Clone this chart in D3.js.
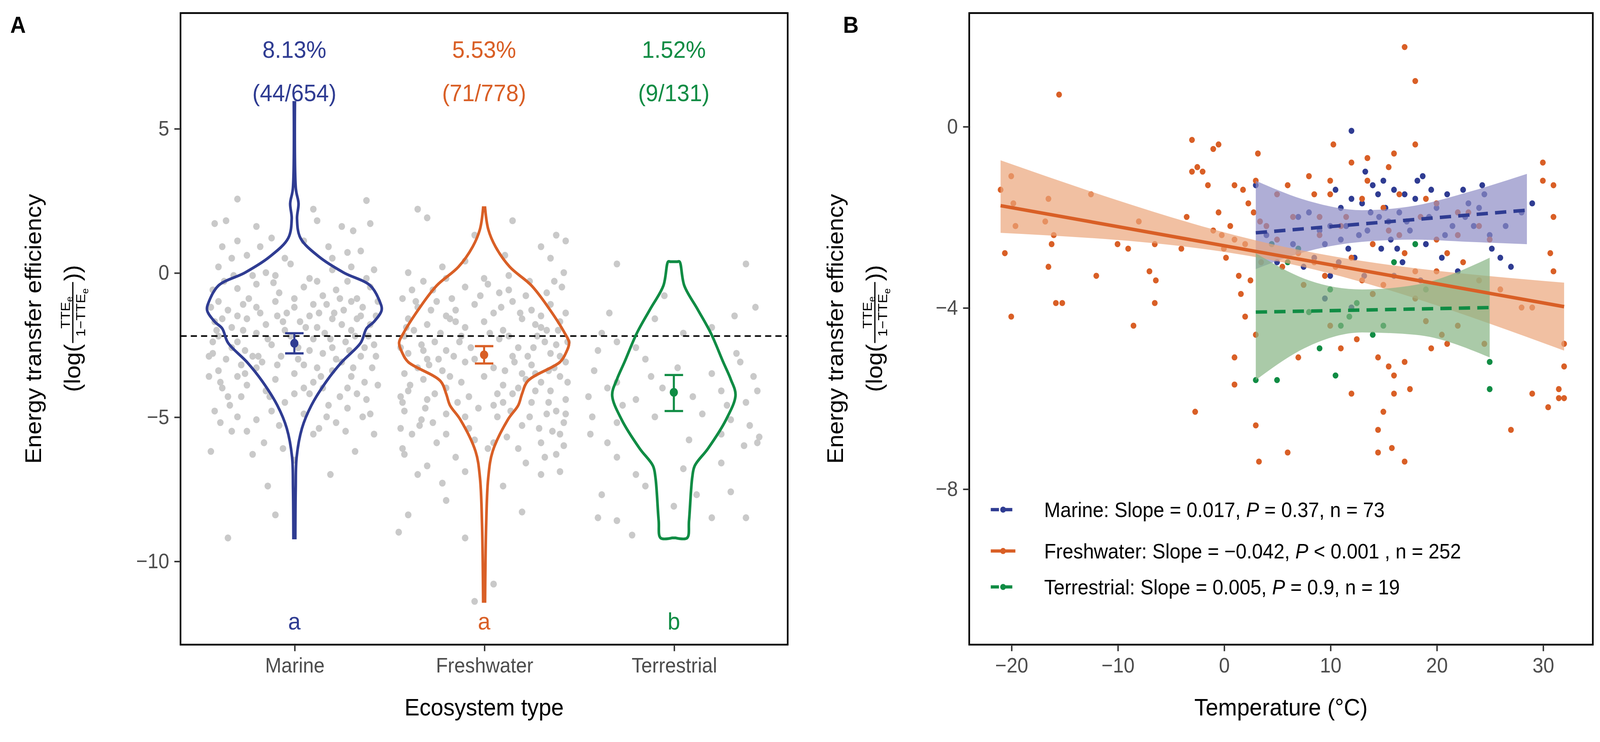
<!DOCTYPE html>
<html><head><meta charset="UTF-8">
<script src="https://cdn.jsdelivr.net/npm/d3@7"></script>
<style>html,body{margin:0;padding:0;background:#fff;overflow:hidden}text{font-family:"Liberation Sans",Arial,sans-serif}
#chart{position:fixed;left:0;top:0;width:100vw;height:100vh;display:block}</style>
</head><body>
<svg id="chart" viewBox="0 0 1560 681.4" preserveAspectRatio="none"></svg>
<script>
// ---- panel A data ----
var groups = ["Marine", "Freshwater", "Terrestrial"];
var colors = ["#2f3c92", "#d95f26", "#108c44"];
var pctLabels = ["8.13%", "5.53%", "1.52%"];
var ratioLabels = ["(44/654)", "(71/778)", "(9/131)"];
var letters = ["a", "a", "b"];
var means = [-2.45, -2.85, -4.15];
var ciLow = [-2.8, -3.15, -4.8];
var ciHigh = [-2.1, -2.55, -3.55];
var refLine = -2.2;
// violin outlines: [y, half width in category units]
var violinMarine = [[5.9,0.003],[2.9,0.008],[2.4,0.022],[1.87,0.014],[1.2,0.032],[0.55,0.13],[0,0.26],[-0.45,0.40],[-1.0,0.45],[-1.3,0.46],[-1.7,0.42],[-1.94,0.38],[-2.43,0.35],[-3.1,0.25],[-3.76,0.17],[-4.6,0.09],[-5.4,0.04],[-6.4,0.012],[-7.5,0.007],[-9.2,0.005]];
var violinFresh = [[2.25,0.005],[1.5,0.022],[0.9,0.06],[0.2,0.135],[-0.45,0.25],[-1.27,0.345],[-2.1,0.425],[-2.43,0.448],[-2.8,0.43],[-3.1,0.40],[-3.76,0.23],[-4.2,0.2],[-4.6,0.18],[-5.1,0.125],[-6.2,0.045],[-7.1,0.022],[-8.7,0.011],[-11.4,0.005]];
var violinTerr = [[0.38,0.02],[0.38,0.03],[-0.45,0.055],[-1.27,0.125],[-2.1,0.195],[-3.1,0.26],[-3.7,0.3],[-4.25,0.325],[-5.1,0.275],[-6.1,0.18],[-6.7,0.11],[-7.1,0.097],[-8.6,0.08],[-9.2,0.07],[-9.2,0.01]];
// gray jittered observations: dx (category units), y
var ptsMarine = [[-0.42,1.7],[-0.36,1.8],[-0.3,2.55],[0.38,2.5],[0.12,1.8],[0.25,1.6],[0.31,1.45],[0.4,1.7],[-0.2,1.6],[-0.12,1.2],[0.05,1.1],[0.18,0.9],[0.35,0.75],[-0.38,0.9],[-0.25,0.6],[-0.05,0.5],[0.2,0.5],[0.3,0.2],[0.42,0.1],[-0.4,0.2],[-0.32,-0.1],[-0.15,0],[0.08,-0.2],[0.28,-0.3],[0.4,-0.5],[-0.43,-0.6],[-0.3,-0.55],[-0.2,-0.4],[-0.08,-0.7],[0.05,-0.5],[0.15,-0.8],[0.22,-0.6],[0.33,-0.9],[-0.4,-1.0],[-0.35,-1.3],[-0.27,-1.1],[-0.18,-1.4],[-0.1,-1.0],[0,-1.2],[0.08,-1.5],[0.17,-1.1],[0.26,-1.3],[0.36,-1.2],[0.43,-1.5],[-0.42,-1.7],[-0.33,-1.9],[-0.25,-1.6],[-0.15,-1.8],[-0.05,-2.0],[0.03,-1.7],[0.12,-1.9],[0.2,-1.6],[0.3,-2.0],[0.4,-1.8],[-0.4,-2.2],[-0.3,-2.4],[-0.2,-2.1],[-0.12,-2.5],[0.1,-2.3],[0.2,-2.6],[0.32,-2.2],[0.42,-2.5],[-0.43,-2.8],[-0.36,-3.0],[-0.26,-2.7],[-0.17,-3.1],[-0.07,-2.9],[0.05,-3.2],[0.15,-2.8],[0.25,-3.1],[0.35,-2.9],[-0.4,-3.4],[-0.3,-3.6],[-0.2,-3.3],[-0.1,-3.7],[0,-3.5],[0.1,-3.8],[0.2,-3.4],[0.3,-3.6],[0.41,-3.3],[-0.38,-4.0],[-0.28,-4.3],[-0.15,-4.1],[-0.05,-4.5],[0.08,-4.2],[0.18,-4.6],[0.28,-4.0],[0.38,-4.4],[-0.42,-4.8],[-0.3,-5.0],[-0.12,-4.8],[0.05,-4.9],[0.22,-5.2],[0.36,-5.0],[-0.33,-5.5],[-0.25,-5.5],[0.1,-5.6],[0.27,-5.5],[-0.44,-6.2],[-0.22,-6.3],[0,-6.5],[0.32,-6.2],[-0.14,-7.4],[-0.1,-8.4],[-0.35,-9.2],[0.13,-5.4],[-0.06,-6.1],[-0.24,-0.9],[0.12,-0.3],[0.27,-2.4],[-0.19,-2.9],[0.37,-3.8],[-0.34,-4.6],[0.02,-2.6],[-0.09,-1.5],[0.14,-3.6],[-0.28,-3.2],[0.33,-1.6],[-0.41,-2.0],[0.24,-4.3],[-0.02,0.3],[0.1,2.2],[-0.3,1.1],[0.43,-2.9],[-0.16,-5.9],[0.19,-7.0],[0.4,-4.9],
  [-0.37,-0.3],[-0.22,-0.1],[-0.11,-0.35],[0.0,-0.9],[0.1,-1.1],[0.21,-1.4],[0.3,-1.0],[0.38,-0.2],[-0.44,-1.2],[-0.3,-1.5],[-0.2,-1.2],[-0.04,-1.4],[0.06,-1.9],[0.16,-2.1],[0.25,-1.8],[0.35,-1.5],[-0.38,-1.6],[-0.27,-2.0],[-0.14,-2.3],[-0.02,-2.2],[0.08,-2.7],[0.19,-2.3],[0.29,-2.7],[0.39,-2.2],[-0.43,-2.4],[-0.33,-2.6],[-0.22,-2.9],[-0.09,-3.2],[0.02,-3.0],[0.12,-3.3],[0.22,-3.0],[0.31,-3.3],[-0.39,-3.8],[-0.25,-3.9],[-0.13,-4.3],[0.05,-4.0],[0.15,-4.0],[0.33,-4.2],[-0.45,-3.6],[0.44,-3.9],[-0.1,-0.1],[0.2,0.1],[-0.33,0.5],[0.28,0.7],[-0.18,0.9],[0.44,-1.0],[-0.45,-2.9],[0.24,-0.9],[-0.06,-1.7],[0.13,-1.4],[-0.26,-3.5],[0.37,-2.6],[-0.35,-4.3],[0.0,-4.2],[0.28,-4.7],[-0.2,-5.1],[0.17,-5.0],[-0.39,-5.2],[0.42,-5.6],[-0.08,-5.3]];
var ptsFresh = [[-0.42,-6.3],[-0.35,2.2],[-0.3,1.9],[-0.05,1.3],[0.15,1.8],[0.38,1.3],[0.43,1.1],[-0.1,0.4],[0.3,0.9],[0.35,0.5],[0.42,0],[-0.4,0],[-0.32,-0.3],[-0.2,-0.2],[-0.1,-0.5],[0.02,-0.4],[0.13,-0.6],[0.24,-0.3],[0.33,-0.7],[0.41,-0.5],[-0.43,-0.9],[-0.35,-1.2],[-0.25,-1.0],[-0.15,-1.3],[-0.05,-1.1],[0.05,-1.4],[0.15,-1.0],[0.25,-1.3],[0.35,-1.1],[0.43,-1.4],[-0.4,-1.6],[-0.3,-1.8],[-0.2,-1.5],[-0.1,-1.9],[0,-1.7],[0.1,-2.0],[0.2,-1.6],[0.3,-1.9],[0.4,-1.7],[-0.42,-2.2],[-0.33,-2.5],[-0.23,-2.1],[-0.13,-2.4],[0.08,-2.3],[0.18,-2.6],[0.28,-2.2],[0.38,-2.5],[-0.4,-2.8],[-0.3,-3.0],[-0.2,-2.7],[-0.1,-3.1],[0.05,-3.3],[0.15,-2.9],[0.25,-3.2],[0.35,-2.8],[0.43,-3.1],[-0.42,-3.5],[-0.32,-3.7],[-0.22,-3.4],[-0.12,-3.8],[0,-3.6],[0.1,-3.9],[0.2,-3.5],[0.3,-3.8],[0.4,-3.6],[-0.4,-4.1],[-0.3,-4.4],[-0.2,-4.0],[-0.08,-4.3],[0.05,-4.6],[0.15,-4.2],[0.25,-4.5],[0.35,-4.1],[0.43,-4.4],[-0.42,-4.8],[-0.33,-5.1],[-0.2,-4.9],[0.07,-5.0],[0.2,-5.3],[0.33,-4.9],[0.42,-5.2],[-0.38,-5.6],[-0.25,-5.9],[0.12,-5.7],[0.3,-5.9],[0.4,-5.6],[-0.43,-6.1],[-0.15,-6.4],[0.22,-6.6],[0.38,-6.3],[-0.35,-7.0],[-0.22,-7.3],[0.1,-7.4],[0.3,-7.0],[-0.4,-8.4],[-0.2,-7.9],[0.2,-8.3],[-0.45,-9.0],[-0.1,-9.2],[0.05,-10.8],[-0.05,-11.4],[0.4,-6.9],[-0.27,-0.6],[0.09,-1.2],[-0.37,-2.0],[0.32,-2.4],[-0.16,-2.9],[0.22,-3.7],[-0.03,-4.7],[-0.29,-3.2],[0.38,-4.8],[-0.08,-5.4],[0.13,-0.1],[0.27,-1.8],[-0.43,-4.5],[0.02,-6.1],[0.4,-2.9],[-0.18,-1.6],[0.18,-4.0],[-0.34,-5.3],[0.34,-3.4],[-0.12,-2.2],
  [-0.38,-0.6],[-0.28,-1.3],[-0.17,-0.9],[-0.02,-0.8],[0.08,-0.7],[0.19,-1.4],[0.3,-1.5],[0.39,-2.0],[-0.41,-1.9],[-0.26,-2.4],[-0.07,-2.6],[0.03,-2.1],[0.13,-2.2],[0.23,-2.9],[0.33,-2.0],[0.44,-2.4],[-0.44,-2.6],[-0.35,-3.3],[-0.24,-3.0],[-0.05,-3.0],[0.11,-3.4],[0.27,-3.5],[0.37,-3.3],[-0.39,-3.9],[-0.26,-4.2],[-0.14,-4.5],[0.07,-4.2],[0.27,-4.1],[0.44,-3.8],[-0.31,-4.7],[-0.1,-5.0],[0.14,-4.8],[0.24,-5.0],[0.36,-5.5],[-0.44,-5.4],[-0.2,-5.6],[0.05,-5.9],[0.18,-6.1],[0.32,-6.4],[-0.3,-6.7],[0.42,-6.0],[-0.1,-6.9],[-0.36,-1.0],[0.22,-0.8],[-0.22,0.2],[0.11,0.6],[0.0,-0.2],[0.37,-0.3],[-0.15,-1.7],[0.26,-2.6],[-0.32,-2.7],[0.16,-3.1],[-0.18,-3.6],[0.34,-4.5],[-0.44,-4.3],[0.1,-4.5],[0.43,-4.9],[-0.27,-5.2],[0.29,-5.4],[-0.05,-5.8]];
var ptsTerr = [[-0.38,-2.1],[-0.34,-1.4],[-0.3,-2.4],[-0.05,-0.8],[-0.1,-1.6],[0.38,0.3],[0.32,-1.5],[0.43,-1.2],[-0.4,-2.7],[-0.2,-2.6],[0.05,-2.1],[0.2,-1.9],[-0.42,-3.4],[-0.3,-3.8],[-0.15,-3.0],[0.02,-3.3],[0.2,-3.5],[0.35,-3.1],[0.42,-3.6],[-0.45,-4.3],[-0.35,-4.0],[-0.2,-4.4],[-0.06,-4.0],[0.1,-4.3],[0.25,-4.1],[0.38,-4.5],[0.44,-4.1],[-0.43,-5.0],[-0.3,-5.2],[-0.1,-5.0],[0.15,-4.9],[0.3,-5.1],[0.4,-5.3],[-0.44,-5.6],[-0.35,-5.9],[0.08,-5.8],[0.25,-5.6],[0.37,-6.0],[0.44,-5.9],[-0.3,-6.4],[-0.2,-7.0],[0.05,-6.8],[0.25,-6.6],[-0.38,-7.7],[-0.15,-7.4],[0,-8.1],[0.12,-7.7],[0.3,-7.6],[-0.4,-8.5],[-0.3,-8.6],[-0.22,-9.1],[0.2,-8.5],[0.38,-8.5],[-0.3,0.3],[0.45,-5.7],[-0.27,-4.6],[0.33,-2.8],[-0.12,-3.6],[0.28,-4.6]];
var gpts = [ptsMarine, ptsFresh, ptsTerr];

// ---- panel B data ----
var legendLabels = ["Marine: Slope = 0.017, |P| = 0.37, n = 73", "Freshwater: Slope = \u22120.042, |P| < 0.001 , n = 252", "Terrestrial: Slope = 0.005, |P| = 0.9, n = 19"];
var tempFresh = [[-21,-1.4],[-20.6,-2.8],[-20,-1.1],[-19.8,-1.7],[-19.6,-2.2],[-20,-4.2],[-15.5,0.7],[-15.8,-3.9],[-15.2,-3.9],[-16,-2.4],[-16.2,-2.6],[-16.5,-1.6],[-16.8,-2.1],[-16.5,-3.1],[-12.5,-1.5],[-12,-3.3],[-10,-2.6],[-9,-2.7],[-8.5,-4.4],[-8,-2.1],[-7,-3.2],[-6.5,-2.6],[-6.4,-3.4],[-6.5,-3.9],[-4,-2.7],[-3,-0.3],[-3,-1.0],[-3.5,-2.0],[-2.7,-6.3],[-2.5,-0.9],[-2,-1.0],[-1.5,-1.3],[-1,-0.5],[-0.5,-0.4],[0,-2.7],[-1,-2.3],[-0.5,-1.9],[-0.2,-2.4],[0.2,-2.9],[0.6,-2.2],[1,-1.3],[1,-2.5],[1,-5.1],[1,-5.7],[1.4,-3.3],[1.6,-3.7],[1.8,-1.4],[2,-2.6],[2.3,-1.7],[2.5,-3.4],[2,-4.2],[3,-1.2],[3.2,-0.6],[3.4,-2.1],[3.5,-3.0],[3,-4.6],[3,-6.6],[3.3,-7.4],[5,-1.5],[5,-2.5],[6,-1.3],[5.5,-3.1],[6,-7.2],[7,-2.8],[7.5,-3.5],[8,-1.1],[8.5,-1.5],[9,-2.4],[9,-2.0],[10,-1.2],[10,-1.5],[10.3,-0.4],[10.5,-3.1],[11,-2.2],[11,-4.9],[12,-0.8],[12,-2.9],[13,-1.6],[13.5,-0.7],[13.5,-1.2],[14,-2.6],[14,-3.7],[14.5,-5.1],[14.5,-6.7],[15,-1.8],[15,-3.5],[15.5,-0.9],[15.5,-5.3],[15.8,-7.1],[16,-0.6],[16,-5.9],[16.5,-1.5],[16.5,-2.4],[17,1.75],[17,-2.8],[17,-5.2],[17.5,-5.8],[18,-0.4],[18,1.0],[18,-3.8],[18.5,-2.0],[19,-1.6],[19,-4.3],[20,-2.5],[20,-3.2],[20.5,-4.6],[21,-4.8],[22,-2.4],[22,-4.4],[22.5,-3.0],[23,-1.9],[24,-3.4],[24.5,-4.8],[25,-2.5],[27,-6.7],[28,-4.0],[29,-4.0],[29,-5.9],[30,-0.8],[30,-1.2],[30.5,-6.2],[30.7,-2.8],[31,-3.2],[31.5,-6.0],[32,-4.8],[32,-5.3],[31.5,-5.8],[32,-6.0],[31,-2.0],[31,-1.3],[24,-2.2],[22,-1.9],[16,-5.5],[17,-7.4],[14.5,-7.2],[19.5,-4.9],[12.5,-4.7],[10,-4.4],[7,-5.1],[8.5,-3.0],[11.5,-2.0],[13,-3.4],[12,-5.9],[15,-6.3],[4,-2.2],[6.5,-2.0],[9.5,-3.3],[18,-3.2],[21,-2.8],[26,-3.6],[2.8,-1.9],[15.5,-2.3],[20,-1.7]];
var tempMarine = [[3,-1.3],[4,-2.4],[5,-3.0],[7,-2.0],[8,-1.9],[9,-2.3],[9.5,-2.6],[10,-3.3],[10.5,-1.4],[11,-2.5],[11,-1.8],[11.5,-2.2],[12,-0.1],[12,-1.6],[12.3,-2.9],[12.7,-2.4],[13,-1.7],[13.2,-3.3],[13.5,-2.3],[14,-1.3],[14.5,-1.5],[14.8,-2.7],[15,-1.2],[15.5,-2.1],[15.7,-2.5],[16,-1.4],[16.5,-1.9],[16.8,-3.0],[17,-1.5],[17.5,-2.3],[18,-1.6],[18.2,-1.2],[18.7,-1.1],[19,-2.6],[19.5,-1.4],[20,-1.8],[20.5,-2.9],[21,-1.5],[21.5,-2.2],[22,-3.2],[22.5,-1.4],[23,-1.7],[23.5,-2.2],[24,-1.8],[24.5,-1.5],[25,-2.4],[25.2,-2.7],[26,-2.9],[27,-3.1],[28,-1.9],[29,-1.7],[9.5,-3.8],[12,-4.0],[14,-3.7],[16,-3.3],[10,-2.2],[13.8,-1.9],[17.2,-2.1],[19.3,-2.0],[6.5,-2.6],[15.2,-1.8],[11.7,-2.7],[20.8,-2.4],[8.5,-2.9],[18.5,-3.4],[22.7,-2.0],[13.3,-1.0],[16.3,-2.7],[10.8,-3.0],[24.3,-1.3],[14.6,-2.0],[26.5,-2.2],[7.5,-3.1]];
var tempTerr = [[3,-5.6],[4.5,-2.6],[5,-5.6],[6,-3.0],[7,-2.7],[8,-4.1],[9,-4.9],[10,-3.6],[10.5,-5.5],[11,-4.4],[11.8,-4.2],[12.5,-3.9],[14,-4.6],[15,-4.4],[16,-3.0],[18,-2.6],[19,-3.6],[25,-5.2],[25,-5.8]];
var fitX = [[3, 28.5], [-21, 32], [3, 25]];
var fitY = [[-2.35, -1.85], [-1.75, -3.98], [-4.1, -4.0]];
// confidence bands: [x, lower, upper]
var bandMarine = [[3,-3.15,-1.2],[8,-2.75,-1.65],[13,-2.55,-1.85],[18,-2.5,-1.75],[23,-2.55,-1.45],[28.5,-2.6,-1.05]];
var bandFresh = [[-21,-2.35,-0.75],[5.5,-3.0,-2.65],[32,-4.95,-3.45]];
var bandTerr = [[3,-5.6,-2.8],[8,-4.85,-3.4],[13,-4.55,-3.6],[18,-4.6,-3.5],[25,-5.1,-2.9]];
var bands = [bandMarine, bandFresh, bandTerr];
var bandFill = ["#8d8cc4", "#eba57a", "#86b383"];

var svg = d3.select("#chart");
var tickCol = "#4d4d4d";

// ================= panel A =================
var A = {l: 176, r: 768, t: 12, b: 592};
var xA = d3.scalePoint().domain(groups).range([A.l, A.r]).padding(0.6);
var step = xA.step();
var yA = d3.scaleLinear().domain([-12.9, 9.0]).range([A.b, A.t]);
var gA = svg.append("g");

gpts.forEach(function (pts, gi) {
  gA.selectAll(null).data(pts).enter().append("circle")
    .attr("cx", function (d) { return xA(groups[gi]) + d[0] * step; })
    .attr("cy", function (d) { return yA(d[1]); })
    .attr("r", 3.2).attr("fill", "#c9c9c9");
});

gA.append("line").attr("x1", A.l).attr("x2", A.r).attr("y1", yA(refLine)).attr("y2", yA(refLine))
  .attr("stroke", "#000").attr("stroke-width", 1.4).attr("stroke-dasharray", "6,4");

[violinMarine, violinFresh, violinTerr].forEach(function (v, gi) {
  var cx = xA(groups[gi]);
  var right = v.map(function (d) { return [cx + d[1] * step, yA(d[0])]; });
  var left = v.slice().reverse().map(function (d) { return [cx - d[1] * step, yA(d[0])]; });
  gA.append("path").attr("d", d3.line().curve(d3.curveCatmullRom)(right) + "L" + d3.line().curve(d3.curveCatmullRom)(left).slice(1) + "Z")
    .attr("fill", "none").attr("stroke", colors[gi]).attr("stroke-width", 2.6);
  var w = 9;
  gA.append("path").attr("d", "M" + (cx - w) + "," + yA(ciHigh[gi]) + "H" + (cx + w) + "M" + cx + "," + yA(ciHigh[gi]) + "V" + yA(ciLow[gi]) + "M" + (cx - w) + "," + yA(ciLow[gi]) + "H" + (cx + w))
    .attr("stroke", colors[gi]).attr("stroke-width", 2).attr("fill", "none");
  gA.append("circle").attr("cx", cx).attr("cy", yA(means[gi])).attr("r", 4).attr("fill", colors[gi]);
  gA.append("text").attr("x", cx).attr("y", 53).attr("text-anchor", "middle").attr("font-size", 22).attr("fill", colors[gi]).text(pctLabels[gi]);
  gA.append("text").attr("x", cx).attr("y", 93).attr("text-anchor", "middle").attr("font-size", 22).attr("fill", colors[gi]).text(ratioLabels[gi]);
  gA.append("text").attr("x", cx).attr("y", 578).attr("text-anchor", "middle").attr("font-size", 22).attr("fill", colors[gi]).text(letters[gi]);
});

gA.append("rect").attr("x", A.l).attr("y", A.t).attr("width", A.r - A.l).attr("height", A.b - A.t)
  .attr("fill", "none").attr("stroke", "#000").attr("stroke-width", 1.6);

function styleAxis(g) {
  g.selectAll(".domain").remove();
  g.selectAll(".tick line").attr("stroke", "#333").attr("stroke-width", 1.4);
  g.selectAll(".tick text").attr("fill", tickCol).attr("font-size", 19).attr("font-family", "Liberation Sans, Arial, sans-serif");
}
var minus = function (d) { return d < 0 ? "\u2212" + (-d) : d; };
gA.append("g").attr("transform", "translate(0," + A.b + ")")
  .call(d3.axisBottom(xA).tickSize(6).tickPadding(6)).call(styleAxis);
gA.append("g").attr("transform", "translate(" + A.l + ",0)")
  .call(d3.axisLeft(yA).tickValues([-10, -5, 0, 5]).tickFormat(minus).tickSize(6).tickPadding(5)).call(styleAxis);
gA.append("text").attr("x", xA("Freshwater")).attr("y", 657).attr("text-anchor", "middle").attr("font-size", 22).text("Ecosystem type");
svg.append("text").attr("x", 10).attr("y", 30).attr("font-size", 21).attr("font-weight", "bold").text("A");
svg.append("text").attr("x", 822).attr("y", 30).attr("font-size", 21).attr("font-weight", "bold").text("B");

function yTitle(xc, yc) {
  var g = svg.append("g").attr("transform", "translate(" + xc + "," + yc + ") rotate(-90)");
  g.append("text").attr("x", 0).attr("y", -14).attr("text-anchor", "middle").attr("font-size", 22).text("Energy transfer efficiency");
  var t = g.append("g").attr("transform", "translate(0,24)");
  var t1 = t.append("text").attr("x", 0).attr("y", 0).attr("font-size", 22).text("(log(");
  var w1 = t1.node().getComputedTextLength();
  var fw = 58, t2w = 14;
  var x0 = -(w1 + fw + t2w) / 2;
  t1.attr("x", x0);
  var fx = x0 + w1 + fw / 2;
  t.append("text").attr("x", fx).attr("y", -10).attr("font-size", 13).attr("text-anchor", "middle").html('TTE<tspan font-size="9" dy="3">e</tspan>');
  t.append("line").attr("x1", x0 + w1 + 1).attr("x2", x0 + w1 + fw - 1).attr("y1", -7).attr("y2", -7).attr("stroke", "#000").attr("stroke-width", 1.2);
  t.append("text").attr("x", fx).attr("y", 5).attr("font-size", 13).attr("text-anchor", "middle").html('1\u2212TTE<tspan font-size="9" dy="3">e</tspan>');
  t.append("text").attr("x", x0 + w1 + fw).attr("y", 0).attr("font-size", 22).text("))");
}
yTitle(54, 302);

// ================= panel B =================
var B = {l: 945, r: 1553, t: 12, b: 592};
var xB = d3.scaleLinear().domain([-23.95, 34.7]).range([B.l, B.r]);
var yB = d3.scaleLinear().domain([-11.44, 2.5]).range([B.b, B.t]);
var gB = svg.append("g");

[tempMarine, tempFresh, tempTerr].forEach(function (pts, si) {
  gB.selectAll(null).data(pts).enter().append("circle")
    .attr("cx", function (d) { return xB(d[0]); }).attr("cy", function (d) { return yB(d[1]); })
    .attr("r", 2.8).attr("fill", colors[si]);
});
bands.forEach(function (b, si) {
  var area = d3.area().curve(d3.curveMonotoneX).x(function (d) { return xB(d[0]); })
    .y0(function (d) { return yB(d[1]); }).y1(function (d) { return yB(d[2]); });
  gB.append("path").attr("d", area(b)).attr("fill", bandFill[si]).attr("opacity", 0.7);
});
fitX.forEach(function (fx, si) {
  gB.append("line").attr("x1", xB(fx[0])).attr("x2", xB(fx[1])).attr("y1", yB(fitY[si][0])).attr("y2", yB(fitY[si][1]))
    .attr("stroke", colors[si]).attr("stroke-width", 3.2).attr("stroke-dasharray", si === 1 ? null : "11,7");
});
gB.append("rect").attr("x", B.l).attr("y", B.t).attr("width", B.r - B.l).attr("height", B.b - B.t)
  .attr("fill", "none").attr("stroke", "#000").attr("stroke-width", 1.6);
gB.append("g").attr("transform", "translate(0," + B.b + ")")
  .call(d3.axisBottom(xB).tickValues([-20, -10, 0, 10, 20, 30]).tickFormat(minus).tickSize(6).tickPadding(6)).call(styleAxis);
gB.append("g").attr("transform", "translate(" + B.l + ",0)")
  .call(d3.axisLeft(yB).tickValues([-8, -4, 0]).tickFormat(minus).tickSize(6).tickPadding(5)).call(styleAxis);
gB.append("text").attr("x", (B.l + B.r) / 2).attr("y", 657).attr("text-anchor", "middle").attr("font-size", 22).text("Temperature (\u00b0C)");
yTitle(836, 302);

// legend
var legY = [468, 506, 539];
legendLabels.forEach(function (lab, i) {
  var g = gB.append("g").attr("transform", "translate(966," + legY[i] + ")");
  g.append("line").attr("x1", 0).attr("x2", 24).attr("stroke", colors[i]).attr("stroke-width", 3).attr("stroke-dasharray", i === 1 ? null : "8,5");
  g.append("circle").attr("cx", 12).attr("r", 2.8).attr("fill", colors[i]);
  var parts = lab.split("|");
  var t = g.append("text").attr("x", 52).attr("y", 7).attr("font-size", 19);
  t.append("tspan").text(parts[0]);
  t.append("tspan").attr("font-style", "italic").text(parts[1]);
  t.append("tspan").text(parts[2]);
});
</script>
</body></html>
